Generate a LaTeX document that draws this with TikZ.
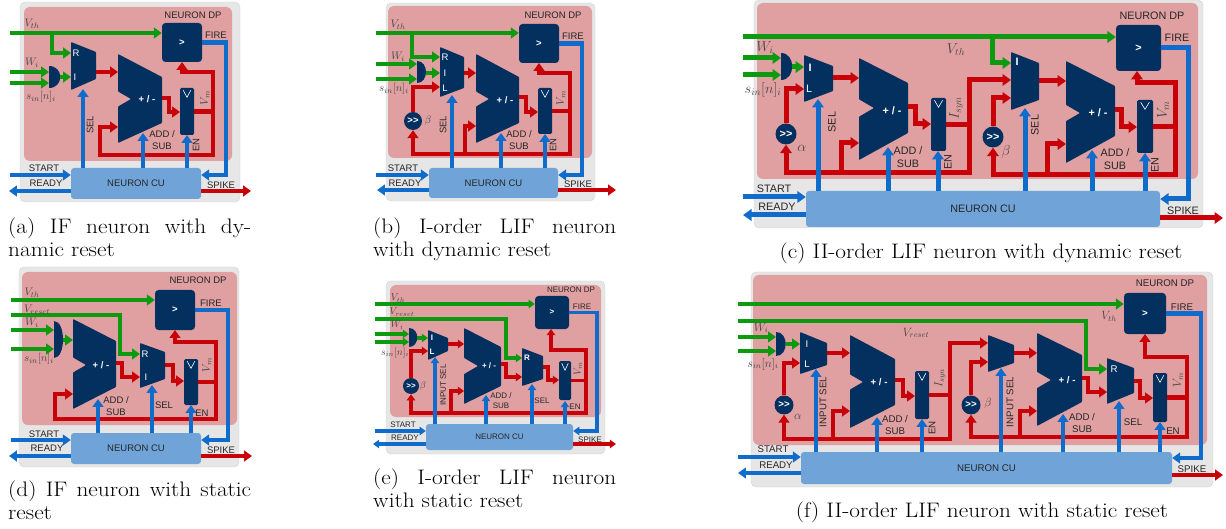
\documentclass[tikz,border=0pt]{standalone}
\usepackage{fontspec}
\setsansfont{Liberation Sans}
\usepackage{tikz}
\usetikzlibrary{arrows.meta}
\definecolor{outergray}{HTML}{E6E6E6}
\definecolor{outerline}{HTML}{D2D2D2}
\definecolor{dppink}{HTML}{E0A0A2}
\definecolor{blocknavy}{HTML}{03305F}
\definecolor{cublue}{HTML}{70A4D8}
\definecolor{wiregreen}{HTML}{0E9A0E}
\definecolor{wirered}{HTML}{C80008}
\definecolor{wireblue}{HTML}{0F6CCB}
\definecolor{labgray}{HTML}{262626}
\tikzset{
  lab/.style={inner sep=0pt,text=labgray},
  mlab/.style={inner sep=0pt,text=labgray!85},
  plab/.style={lab,text=white},
  panelfont/.style n args={3}{
    lab/.append style={font=\sffamily\fontsize{#1}{#2}\selectfont,align=center},
    mlab/.append style={font=\fontsize{#3}{#3}\selectfont}},
  wire/.style={line width=4pt,>={Triangle[length=0pt 1.7,width=0pt 2.3]}},
  wirewidth/.style={wire/.append style={line width=#1pt}},
  gwire/.style={wire,draw=wiregreen},
  rwire/.style={wire,draw=wirered},
  bwire/.style={wire,draw=wireblue},
  blockfill/.style={fill=blocknavy,rounded corners=0.7pt},
  cmpbox/.style={lab,text=white,fill=blocknavy,rounded corners=3.5pt},
  regbox/.style={lab,fill=blocknavy,rounded corners=1.5pt},
  cubox/.style={lab,fill=cublue,rounded corners=3pt},
  shiftnode/.style={lab,text=white,circle,fill=blocknavy},
  capt/.style={inner sep=0pt,text=black,xscale=1.108,font=\fontsize{21}{22.8}\selectfont},
  captj/.style={capt,anchor=north west,text width=219.3pt,align=justify},
}
% to place a box by its corners
\newcommand\blocknode[7]{\node[#1,minimum width={(#5-#3)*1pt},minimum height={(#6-#4)*1pt}] (#2) at ({(#3+#5)/2},{(#4+#6)/2}) {#7};}
% to draw a register with its clock mark
\newcommand\regnode[5]{\blocknode{regbox}{#1}{#2}{#3}{#4}{#5}{}
  \draw[white,line width=0.6pt] (#1.north) ++({-0.27*(#4-#2)},2.5) -- ++({0.27*(#4-#2)},7) -- ++({0.27*(#4-#2)},-7);}
% x1 x2 ytopleft ytopright ybotright ybotleft
\newcommand\muxshape[6]{\fill[blockfill] (#1,#3) -- (#2,#4) -- (#2,#5) -- (#1,#6) -- cycle;}
% x1 x2 ytl ytr ybr ybl xnotch ynotch
\newcommand\addershape[8]{\fill[blockfill] (#1,#3) -- (#2,#4) -- (#2,#5) -- (#1,#6) -- (#1,{#8+0.58*(#7-#1)}) -- (#7,#8) -- (#1,{#8-0.58*(#7-#1)}) -- cycle;}
% x1 x2 y1 y2
\newcommand\andshape[4]{\fill[fill=blocknavy] (#1,#3) .. controls ({#1+(#2-#1)/0.75},#3) and ({#1+(#2-#1)/0.75},#4) .. (#1,#4) -- cycle;}
% outer box, then data path box
\newcommand\panelbg[8]{\draw[fill=outergray,draw=outerline,rounded corners=5pt] (#1,#2) rectangle (#3,#4);
  \fill[dppink,rounded corners=6pt] (#5,#6) rectangle (#7,#8);}
\newcommand\shr{\textbf{>\kern0pt>}}
\begin{document}
\begin{tikzpicture}[x=1pt,y=-1pt]
\useasboundingbox (0,0) rectangle (1226,529);

%%% (a)
\begin{scope}[name prefix=a-,panelfont={9.5}{11.5}{11},wirewidth=4.6]
\panelbg{20}{2}{240}{202}{24}{7}{232}{161}
\node[lab] (dp) at (193,15) {NEURON DP};
% blocks
\blocknode{cmpbox}{cmp}{162}{23}{202}{62}{\textbf{>}}
\blocknode{cubox}{cu}{71}{168}{201}{199}{NEURON CU}
\regnode{reg}{180}{88}{194}{135}
\muxshape{71}{96}{42}{52}{79}{90}
\addershape{118}{162}{54}{77}{123}{143}{131}{99}
\andshape{49}{60}{66}{88}
% green wires
\coordinate (vth) at (10,33);
\coordinate (vthb) at (52,33);
\coordinate (muxr) at (71,53);
\coordinate (wa) at (10,72);
\coordinate (wb) at (10,83);
\coordinate (anda) at (49,72);
\coordinate (andb) at (49,83);
\coordinate (ando) at (60,77);
\coordinate (muxi) at (71,77);
\draw[gwire,->] (vth) -- (vth -| cmp.west);
\draw[gwire,->] (vthb) |- (muxr);
\draw[gwire,->] (wa) -- (anda);
\draw[gwire,->] (wb) -- (andb);
\draw[gwire,->] (ando) -- (muxi);
% red wires
\coordinate (muxo) at (96,72);
\coordinate (adda) at (118,72);
\coordinate (addo) at (162,98);
\coordinate (addk) at (169,112);
\coordinate (regd) at (180,112);
\coordinate (cmpi) at (182,62);
\coordinate (bust) at (213,72);
\coordinate (busr) at (213,155);
\coordinate (busl) at (100,127);
\coordinate (addb) at (118,127);
\draw[rwire,->] (muxo) -- (adda);
\draw[rwire,->] (addo) -| (addk) -- (regd);
\draw[rwire] (reg.east) -- (reg.east -| busr);
\draw[rwire,<->] (cmpi) |- (bust) -- (busr) -| (busl) -- (addb);
% blue wires
\coordinate (sel) at (83,89);
\coordinate (addsub) at (143,133);
\coordinate (en) at (187,135);
\coordinate (firex) at (226,175);
\coordinate (start) at (10,175);
\coordinate (ready) at (9,191);
\coordinate (spike) at (251,191);
\draw[bwire,->] (cu.north -| sel) -- (sel);
\draw[bwire,->] (cu.north -| addsub) -- (addsub);
\draw[bwire,->] (cu.north -| en) -- (en);
\draw[bwire,->] (cmp.east) -- (cmp.east -| firex) -- (firex) -- (firex -| cu.east);
\draw[bwire,->] (start) -- (start -| cu.west);
\draw[bwire,->] (ready -| cu.west) -- (ready);
\draw[rwire,->] (spike -| cu.east) -- (spike);
% to write labels
\node[mlab] (lvth) at (32,24) {$V_{th}$};
\node[mlab] (lw) at (32,63) {$W_i$};
\node[mlab] (ls) at (41,97) {$s_{in}[n]_i$};
\node[mlab,rotate=90] (lvm) at (205,98) {$V_m$};
\node[plab] (lr) at (76,53) {R};
\node[plab] (li) at (75,77) {I};
\node[plab] (lpm) at (147,99) {\textbf{+ / -}};
\node[lab,rotate=90] (lsel) at (90,125) {SEL};
\node[lab] (lad) at (162,140) {ADD /\\SUB};
\node[lab,rotate=90] (len) at (196,145) {EN};
\node[lab] (lfire) at (216,35) {FIRE};
\node[lab] (lstart) at (44,168) {START};
\node[lab] (lready) at (46,183) {READY};
\node[lab] (lspike) at (221,185) {SPIKE};
\node[captj] (capa) at (8,218) {(a) IF neuron with dy-\linebreak namic reset};
\end{scope}

%%% (b)
\begin{scope}[name prefix=b-,panelfont={9.5}{11.5}{11},wirewidth=4.6]
\panelbg{386}{3}{595}{201}{388}{6}{592}{158}
\node[lab] (dp) at (553,15) {NEURON DP};
% blocks
\blocknode{cmpbox}{cmp}{519}{24}{559}{63}{\textbf{>}}
\blocknode{cubox}{cu}{429}{168}{558}{198}{NEURON CU}
\regnode{reg}{538}{88}{552}{134}
\muxshape{440}{464}{47}{57}{88}{97}
\addershape{476}{519}{54}{77}{123}{143}{489}{99}
\andshape{417}{426}{61}{83}
\node[shiftnode,minimum size=18pt] (shift) at (413,121) {\shr};
% green wires
\coordinate (vth) at (376,33);
\coordinate (vthb) at (412,33);
\coordinate (muxr) at (440,57);
\coordinate (wa) at (376,64);
\coordinate (wb) at (376,79);
\coordinate (anda) at (417,64);
\coordinate (andb) at (417,79);
\coordinate (ando) at (426,73);
\coordinate (muxi) at (440,73);
\draw[gwire,->] (vth) -- (vth -| cmp.west);
\draw[gwire,->] (vthb) |- (muxr);
\draw[gwire,->] (wa) -- (anda);
\draw[gwire,->] (wb) -- (andb);
\draw[gwire,->] (ando) -- (muxi);
% red wires
\coordinate (muxl) at (440,87);
\coordinate (muxo) at (464,73);
\coordinate (adda) at (476,73);
\coordinate (addo) at (519,97);
\coordinate (addk) at (526,112);
\coordinate (regd) at (538,112);
\coordinate (cmpi) at (539,63);
\coordinate (bust) at (570,73);
\coordinate (busr) at (570,154);
\coordinate (busb) at (465,154);
\coordinate (addb) at (476,126);
\draw[rwire,->] (shift.north) |- (muxl);
\draw[rwire,->] (muxo) -- (adda);
\draw[rwire,->] (addo) -| (addk) -- (regd);
\draw[rwire] (reg.east) -- (reg.east -| busr);
\draw[rwire,<->] (cmpi) |- (bust) -- (busr) -- (busr -| shift.south) -- (shift.south);
\draw[rwire,->] (busb) |- (addb);
% blue wires
\coordinate (sel) at (452,95);
\coordinate (addsub) at (501,133);
\coordinate (en) at (545,134);
\coordinate (firex) at (582,175);
\coordinate (start) at (376,175);
\coordinate (ready) at (377,190);
\coordinate (spike) at (616,190);
\draw[bwire,->] (cu.north -| sel) -- (sel);
\draw[bwire,->] (cu.north -| addsub) -- (addsub);
\draw[bwire,->] (cu.north -| en) -- (en);
\draw[bwire,->] (cmp.east) -- (cmp.east -| firex) -- (firex) -- (firex -| cu.east);
\draw[bwire,->] (start) -- (start -| cu.west);
\draw[bwire,->] (ready -| cu.west) -- (ready);
\draw[rwire,->] (spike -| cu.east) -- (spike);
% to write labels
\node[mlab] (lvth) at (398,25) {$V_{th}$};
\node[mlab] (lw) at (398,57) {$W_i$};
\node[mlab] (ls) at (394,89) {$s_{in}[n]_i$};
\node[mlab,rotate=90] (lvm) at (561,98) {$V_m$};
\node[mlab] (lbeta) at (428,121) {$\beta$};
\node[plab] (lr) at (445,57) {R};
\node[plab] (li) at (445,73) {I};
\node[plab] (ll) at (445,88) {L};
\node[plab] (lpm) at (505,100) {\textbf{+ / -}};
\node[lab,rotate=90] (lsel) at (443,125) {SEL};
\node[lab] (lad) at (519,140) {ADD /\\SUB};
\node[lab,rotate=90] (len) at (553,145) {EN};
\node[lab] (lfire) at (573,36) {FIRE};
\node[lab] (lstart) at (403,168) {START};
\node[lab] (lready) at (405,183) {READY};
\node[lab] (lspike) at (578,184) {SPIKE};
\node[captj] (capb) at (373,218) {(b) I-order LIF neuron\linebreak with dynamic reset};
\end{scope}

%%% (c)
\begin{scope}[name prefix=c-,panelfont={10.8}{13}{14},wirewidth=5]
\panelbg{754}{0}{1203}{228}{757}{3}{1198}{179}
\node[lab] (dp) at (1152,16) {NEURON DP};
% blocks
\blocknode{cmpbox}{cmp}{1116}{25}{1161}{71}{\textbf{>}}
\blocknode{cubox}{cu}{806}{191}{1160}{227}{NEURON CU}
\regnode{rega}{931}{98}{946}{151}
\regnode{regb}{1137}{100}{1153}{153}
\muxshape{804}{833}{55}{66}{91}{102}
\muxshape{1011}{1039}{52}{63}{100}{110}
\addershape{859}{908}{58}{83}{133}{160}{874}{108}
\addershape{1066}{1115}{61}{86}{136}{163}{1080}{113}
\andshape{781}{792}{53}{80}
\node[shiftnode,minimum size=21pt] (shifta) at (786,134) {\shr};
\node[shiftnode,minimum size=21pt] (shiftb) at (993,137) {\shr};
% green wires
\coordinate (vth) at (743,37);
\coordinate (vthb) at (992,37);
\coordinate (muxr) at (1011,63);
\coordinate (wa) at (743,58);
\coordinate (wb) at (743,75);
\coordinate (anda) at (781,58);
\coordinate (andb) at (781,75);
\coordinate (ando) at (792,67);
\coordinate (muxi) at (804,67);
\draw[gwire,->] (vth) -- (vth -| cmp.west);
\draw[gwire,->] (vthb) |- (muxr);
\draw[gwire,->] (wa) -- (anda);
\draw[gwire,->] (wb) -- (andb);
\draw[gwire,->] (ando) -- (muxi);
% red wires, first stage
\coordinate (muxl) at (804,89);
\coordinate (muxo) at (833,78);
\coordinate (adda) at (859,78);
\coordinate (addo) at (908,107);
\coordinate (addk) at (915,124);
\coordinate (regd) at (931,124);
\coordinate (bust) at (969,80);
\coordinate (busr) at (969,173);
\coordinate (busb) at (841,173);
\coordinate (addb) at (859,143);
\coordinate (muxs) at (1011,80);
\draw[rwire,->] (shifta.north) |- (muxl);
\draw[rwire,->] (muxo) -- (adda);
\draw[rwire,->] (addo) -| (addk) -- (regd);
\draw[rwire] (rega.east) -- (rega.east -| busr);
\draw[rwire,<->] (muxs) -- (bust) -- (busr) -- (busr -| shifta.south) -- (shifta.south);
\draw[rwire,->] (busb) |- (addb);
% red wires, second stage
\coordinate (muxl2) at (1011,98);
\coordinate (muxo2) at (1039,81);
\coordinate (adda2) at (1066,81);
\coordinate (addo2) at (1115,110);
\coordinate (addk2) at (1121,127);
\coordinate (regd2) at (1137,127);
\coordinate (cmpi) at (1137,71);
\coordinate (bust2) at (1175,83);
\coordinate (busr2) at (1175,175);
\coordinate (busb2) at (1047,175);
\coordinate (addb2) at (1066,144);
\draw[rwire,->] (shiftb.north) |- (muxl2);
\draw[rwire,->] (muxo2) -- (adda2);
\draw[rwire,->] (addo2) -| (addk2) -- (regd2);
\draw[rwire] (regb.east) -- (regb.east -| busr2);
\draw[rwire,<->] (cmpi) |- (bust2) -- (busr2) -- (busr2 -| shiftb.south) -- (shiftb.south);
\draw[rwire,->] (busb2) |- (addb2);
% blue wires
\coordinate (sel) at (818,99);
\coordinate (addsub) at (888,147);
\coordinate (en) at (938,151);
\coordinate (sel2) at (1025,108);
\coordinate (addsub2) at (1092,150);
\coordinate (en2) at (1145,153);
\coordinate (firex) at (1188,199);
\coordinate (start) at (743,197);
\coordinate (ready) at (743,215);
\coordinate (spike) at (1223,218);
\draw[bwire,->] (cu.north -| sel) -- (sel);
\draw[bwire,->] (cu.north -| addsub) -- (addsub);
\draw[bwire,->] (cu.north -| en) -- (en);
\draw[bwire,->] (cu.north -| sel2) -- (sel2);
\draw[bwire,->] (cu.north -| addsub2) -- (addsub2);
\draw[bwire,->] (cu.north -| en2) -- (en2);
\draw[bwire,->] (cmp.east) -- (cmp.east -| firex) -- (firex) -- (firex -| cu.east);
\draw[bwire,->] (start) -- (start -| cu.west);
\draw[bwire,->] (ready -| cu.west) -- (ready);
\draw[rwire,->] (spike -| cu.east) -- (spike);
% to write labels
\node[mlab] (lvth) at (956,50) {$V_{th}$};
\node[mlab] (lw) at (765,48) {$W_i$};
\node[mlab] (ls) at (763,90) {$s_{in}[n]_i$};
\node[mlab,rotate=90] (lisyn) at (956,108) {$I_{syn}$};
\node[mlab,rotate=90] (lvm) at (1163,110) {$V_m$};
\node[mlab] (lalpha) at (802,148) {$\alpha$};
\node[mlab] (lbeta) at (1006,152) {$\beta$};
\node[plab] (li) at (810,68) {\textbf{I}};
\node[plab] (ll) at (809,89) {L};
\node[plab] (li2) at (1017,62) {\textbf{I}};
\node[plab] (lpm) at (892,111) {\textbf{+ / -}};
\node[plab] (lpm2) at (1098,113) {\textbf{+ / -}};
\node[lab,rotate=90] (lsel) at (832,122) {SEL};
\node[lab,rotate=90] (lsel2) at (1035,125) {SEL};
\node[lab] (lad) at (908,157) {ADD /\\SUB};
\node[lab] (lad2) at (1115,159) {ADD /\\SUB};
\node[lab,rotate=90] (len) at (948,162) {EN};
\node[lab,rotate=90] (len2) at (1155,165) {EN};
\node[lab] (lfire) at (1177,38) {FIRE};
\node[lab] (lstart) at (774,189) {START};
\node[lab] (lready) at (777,207) {READY};
\node[lab] (lspike) at (1183,211) {SPIKE};
\node[capt] (capc) at (981,253) {(c) II-order LIF neuron with dynamic reset};
\end{scope}

%%% (d)
\begin{scope}[name prefix=d-,panelfont={9.5}{11.5}{11},wirewidth=4.6]
\panelbg{19}{267}{239}{467}{22}{272}{237}{425}
\node[lab] (dp) at (198,280) {NEURON DP};
% blocks
\blocknode{cmpbox}{cmp}{155}{290}{195}{330}{\textbf{>}}
\blocknode{cubox}{cu}{71}{433}{201}{464}{NEURON CU}
\regnode{reg}{184}{359}{198}{405}
\muxshape{140}{165}{343}{352}{379}{388}
\addershape{73}{116}{319}{341}{387}{409}{86}{365}
\andshape{54}{63}{321}{358}
% green wires
\coordinate (vth) at (11,300);
\coordinate (vr) at (11,315);
\coordinate (vrb) at (120,354);
\coordinate (muxr) at (140,354);
\coordinate (wa) at (11,330);
\coordinate (wb) at (11,349);
\coordinate (anda) at (54,330);
\coordinate (andb) at (54,349);
\coordinate (ando) at (63,340);
\coordinate (addg) at (73,340);
\draw[gwire,->] (vth) -- (vth -| cmp.west);
\draw[gwire,->] (vr) -| (vrb) -- (muxr);
\draw[gwire,->] (wa) -- (anda);
\draw[gwire,->] (wb) -- (andb);
\draw[gwire,->] (ando) -- (addg);
% red wires
\coordinate (addo) at (116,363);
\coordinate (addk) at (122,377);
\coordinate (muxi) at (140,377);
\coordinate (muxo) at (165,365);
\coordinate (muxk) at (173,381);
\coordinate (regd) at (184,381);
\coordinate (cmpi) at (175,330);
\coordinate (bust) at (216,342);
\coordinate (busr) at (216,419);
\coordinate (busl) at (55,394);
\coordinate (addb) at (73,394);
\draw[rwire,->] (addo) -| (addk) -- (muxi);
\draw[rwire,->] (muxo) -| (muxk) -- (regd);
\draw[rwire] (reg.east) -- (reg.east -| busr);
\draw[rwire,<->] (cmpi) |- (bust) -- (busr) -| (busl) -- (addb);
% blue wires
\coordinate (addsub) at (98,399);
\coordinate (sel) at (152,385);
\coordinate (en) at (191,405);
\coordinate (firex) at (228,440);
\coordinate (start) at (11,440);
\coordinate (ready) at (9,456);
\coordinate (spike) at (252,456);
\draw[bwire,->] (cu.north -| addsub) -- (addsub);
\draw[bwire,->] (cu.north -| sel) -- (sel);
\draw[bwire,->] (cu.north -| en) -- (en);
\draw[bwire,->] (cmp.east) -- (cmp.east -| firex) -- (firex) -- (firex -| cu.east);
\draw[bwire,->] (start) -- (start -| cu.west);
\draw[bwire,->] (ready -| cu.west) -- (ready);
\draw[rwire,->] (spike -| cu.east) -- (spike);
% to write labels
\node[mlab] (lvth) at (32,293) {$V_{th}$};
\node[mlab] (lvr) at (37,310) {$V_{reset}$};
\node[mlab] (lw) at (32,323) {$W_i$};
\node[mlab] (ls) at (39,359) {$s_{in}[n]_i$};
\node[mlab,rotate=90] (lvm) at (207,365) {$V_m$};
\node[plab] (lr) at (145,354) {R};
\node[plab] (li) at (146,377) {I};
\node[plab] (lpm) at (101,365) {\textbf{+ / -}};
\node[lab] (lsel) at (164,405) {SEL};
\node[lab] (lad) at (116,406) {ADD /\\SUB};
\node[lab] (len) at (202,413) {EN};
\node[lab] (lfire) at (211,303) {FIRE};
\node[lab] (lstart) at (44,434) {START};
\node[lab] (lready) at (47,448) {READY};
\node[lab] (lspike) at (221,450) {SPIKE};
\node[captj] (capd) at (8,481) {(d) IF neuron with static\linebreak reset};
\end{scope}

%%% (e)
\begin{scope}[name prefix=e-,panelfont={8}{10}{10},wirewidth=3.6]
\panelbg{386}{281}{605}{454}{390}{285}{601}{417}
\node[lab] (dp) at (571,290) {NEURON DP};
% blocks
\blocknode{cmpbox}{cmp}{535}{296}{569}{329}{\textbf{>}}
\blocknode{cubox}{cu}{426}{424}{573}{450}{NEURON CU}
\regnode{reg}{559}{361}{571}{400}
\muxshape{428}{448}{330}{338}{351}{360}
\muxshape{522}{543}{348}{356}{379}{386}
\addershape{464}{501}{328}{347}{386}{404}{478}{366}
\andshape{409}{417}{328}{347}
\node[shiftnode,minimum size=16pt] (shift) at (411,386) {\shr};
% green wires
\coordinate (vth) at (375,304);
\coordinate (vr) at (375,319);
\coordinate (vrb) at (506,358);
\coordinate (muxr) at (522,358);
\coordinate (wa) at (375,334);
\coordinate (wb) at (375,342);
\coordinate (anda) at (409,334);
\coordinate (andb) at (409,342);
\coordinate (ando) at (417,338);
\coordinate (muxi) at (428,338);
\draw[gwire,->] (vth) -- (vth -| cmp.west);
\draw[gwire,->] (vr) -| (vrb) -- (muxr);
\draw[gwire,->] (wa) -- (anda);
\draw[gwire,->] (wb) -- (andb);
\draw[gwire,->] (ando) -- (muxi);
% red wires
\coordinate (muxl) at (428,351);
\coordinate (muxo) at (448,344);
\coordinate (adda) at (464,344);
\coordinate (addo) at (501,364);
\coordinate (addk) at (506,377);
\coordinate (muxd) at (522,377);
\coordinate (muxo2) at (543,367);
\coordinate (muxk) at (548,380);
\coordinate (regd) at (559,380);
\coordinate (cmpi) at (551,329);
\coordinate (bust) at (586,350);
\coordinate (busr) at (586,413);
\coordinate (busb) at (451,413);
\coordinate (addb) at (464,391);
\draw[rwire,->] (shift.north) |- (muxl);
\draw[rwire,->] (muxo) -- (adda);
\draw[rwire,->] (addo) -| (addk) -- (muxd);
\draw[rwire,->] (muxo2) -| (muxk) -- (regd);
\draw[rwire] (reg.east) -- (reg.east -| busr);
\draw[rwire,<->] (cmpi) |- (bust) -- (busr) -- (busr -| shift.south) -- (shift.south);
\draw[rwire,->] (busb) |- (addb);
% blue wires
\coordinate (sel) at (435,357);
\coordinate (addsub) at (486,395);
\coordinate (sel2) at (532,384);
\coordinate (en) at (565,401);
\coordinate (firex) at (597,431);
\coordinate (start) at (375,431);
\coordinate (ready) at (373,444);
\coordinate (spike) at (616,444);
\draw[bwire,->] (cu.north -| sel) -- (sel);
\draw[bwire,->] (cu.north -| addsub) -- (addsub);
\draw[bwire,->] (cu.north -| sel2) -- (sel2);
\draw[bwire,->] (cu.north -| en) -- (en);
\draw[bwire,->] (cmp.east) -- (cmp.east -| firex) -- (firex) -- (firex -| cu.east);
\draw[bwire,->] (start) -- (start -| cu.west);
\draw[bwire,->] (ready -| cu.west) -- (ready);
\draw[rwire,->] (spike -| cu.east) -- (spike);
% to write labels
\node[mlab] (lvth) at (398,298) {$V_{th}$};
\node[mlab] (lvr) at (402,312) {$V_{reset}$};
\node[mlab] (lw) at (397,325) {$W_i$};
\node[mlab] (ls) at (395,353) {$s_{in}[n]_i$};
\node[mlab,rotate=90] (lvm) at (578,369) {$V_m$};
\node[mlab] (lbeta) at (423,386) {$\beta$};
\node[plab] (li) at (432,338) {\textbf{I}};
\node[plab] (ll) at (432,352) {\textbf{L}};
\node[plab] (lr) at (527,358) {\textbf{R}};
\node[plab] (lpm) at (489,366) {\textbf{+ / -}};
\node[lab,rotate=90] (lsel) at (443,385) {INPUT SEL};
\node[lab] (lsel2) at (542,401) {SEL};
\node[lab] (lad) at (501,401) {ADD /\\SUB};
\node[lab] (len) at (575,407) {EN};
\node[lab] (lfire) at (582,307) {FIRE};
\node[lab] (lstart) at (403,425) {START};
\node[lab] (lready) at (405,438) {READY};
\node[lab] (lspike) at (590,440) {SPIKE};
\node[captj] (cape) at (373,469) {(e) I-order LIF neuron\linebreak with static reset};
\end{scope}

%%% (f)
\begin{scope}[name prefix=f-,panelfont={9.7}{11.5}{12},wirewidth=4.6]
\panelbg{751}{272}{1213}{487}{753}{275}{1207}{445}
\node[lab] (dp) at (1165,283) {NEURON DP};
% blocks
\blocknode{cmpbox}{cmp}{1124}{293}{1166}{334}{\textbf{>}}
\blocknode{cubox}{cu}{801}{452}{1172}{484}{NEURON CU}
\regnode{rega}{915}{371}{929}{419}
\regnode{regb}{1153}{373}{1167}{422}
\muxshape{800}{827}{332}{343}{365}{374}
\muxshape{988}{1014}{335}{345}{363}{372}
\muxshape{1107}{1134}{358}{368}{393}{404}
\addershape{850}{895}{335}{359}{405}{428}{863}{382}
\addershape{1037}{1082}{333}{355}{402}{426}{1051}{380}
\andshape{776}{786}{332}{356}
\node[shiftnode,minimum size=19pt] (shifta) at (784,405) {\shr};
\node[shiftnode,minimum size=19pt] (shiftb) at (971,405) {\shr};
% green wires
\coordinate (vth) at (738,304);
\coordinate (vr) at (738,321);
\coordinate (vrb) at (1086,369);
\coordinate (muxr) at (1107,369);
\coordinate (wa) at (738,337);
\coordinate (wb) at (738,351);
\coordinate (anda) at (776,337);
\coordinate (andb) at (776,351);
\coordinate (ando) at (786,344);
\coordinate (muxi) at (800,344);
\draw[gwire,->] (vth) -- (vth -| cmp.west);
\draw[gwire,->] (vr) -| (vrb) -- (muxr);
\draw[gwire,->] (wa) -- (anda);
\draw[gwire,->] (wb) -- (andb);
\draw[gwire,->] (ando) -- (muxi);
% red wires, first stage
\coordinate (muxl) at (800,363);
\coordinate (muxo) at (827,353);
\coordinate (adda) at (850,353);
\coordinate (addo) at (895,380);
\coordinate (addk) at (903,396);
\coordinate (regd) at (915,396);
\coordinate (bust) at (950,343);
\coordinate (busr) at (950,439);
\coordinate (busb) at (833,439);
\coordinate (addb) at (850,411);
\coordinate (muxs) at (988,343);
\draw[rwire,->] (shifta.north) |- (muxl);
\draw[rwire,->] (muxo) -- (adda);
\draw[rwire,->] (addo) -| (addk) -- (regd);
\draw[rwire] (rega.east) -- (rega.east -| busr);
\draw[rwire,<->] (muxs) -- (bust) -- (busr) -- (busr -| shifta.south) -- (shifta.south);
\draw[rwire,->] (busb) |- (addb);
% red wires, second stage
\coordinate (muxl2) at (988,362);
\coordinate (muxo2) at (1014,353);
\coordinate (adda2) at (1037,353);
\coordinate (addo2) at (1082,378);
\coordinate (addk2) at (1088,392);
\coordinate (muxd) at (1107,392);
\coordinate (muxo3) at (1134,381);
\coordinate (muxk) at (1140,398);
\coordinate (regd2) at (1153,398);
\coordinate (cmpi) at (1145,334);
\coordinate (bust2) at (1187,357);
\coordinate (busr2) at (1187,437);
\coordinate (busb2) at (1020,437);
\coordinate (addb2) at (1037,411);
\draw[rwire,->] (shiftb.north) |- (muxl2);
\draw[rwire,->] (muxo2) -- (adda2);
\draw[rwire,->] (addo2) -| (addk2) -- (muxd);
\draw[rwire,->] (muxo3) -| (muxk) -- (regd2);
\draw[rwire] (regb.east) -- (regb.east -| busr2);
\draw[rwire,<->] (cmpi) |- (bust2) -- (busr2) -- (busr2 -| shiftb.south) -- (shiftb.south);
\draw[rwire,->] (busb2) |- (addb2);
% blue wires
\coordinate (sel) at (816,369);
\coordinate (addsub) at (877,417);
\coordinate (en) at (922,419);
\coordinate (sel2) at (1001,368);
\coordinate (addsub2) at (1063,414);
\coordinate (sel3) at (1119,401);
\coordinate (en2) at (1160,422);
\coordinate (firex) at (1201,458);
\coordinate (start) at (738,457);
\coordinate (ready) at (738,473);
\coordinate (spike) at (1223,475);
\draw[bwire,->] (cu.north -| sel) -- (sel);
\draw[bwire,->] (cu.north -| addsub) -- (addsub);
\draw[bwire,->] (cu.north -| en) -- (en);
\draw[bwire,->] (cu.north -| sel2) -- (sel2);
\draw[bwire,->] (cu.north -| addsub2) -- (addsub2);
\draw[bwire,->] (cu.north -| sel3) -- (sel3);
\draw[bwire,->] (cu.north -| en2) -- (en2);
\draw[bwire,->] (cmp.east) -- (cmp.east -| firex) -- (firex) -- (firex -| cu.east);
\draw[bwire,->] (start) -- (start -| cu.west);
\draw[bwire,->] (ready -| cu.west) -- (ready);
\draw[rwire,->] (spike -| cu.east) -- (spike);
% to write labels
\node[mlab] (lvth) at (1109,316) {$V_{th}$};
\node[mlab] (lvr) at (916,333) {$V_{reset}$};
\node[mlab] (lw) at (761,328) {$W_i$};
\node[mlab] (ls) at (763,364) {$s_{in}[n]_i$};
\node[mlab,rotate=90] (lisyn) at (940,378) {$I_{syn}$};
\node[mlab,rotate=90] (lvm) at (1178,380) {$V_m$};
\node[mlab] (lalpha) at (798,417) {$\alpha$};
\node[mlab] (lbeta) at (988,403) {$\beta$};
\node[plab] (li) at (807,344) {I};
\node[plab] (ll) at (807,364) {L};
\node[plab] (lr) at (1114,369) {R};
\node[plab] (lpm) at (879,382) {\textbf{+ / -}};
\node[plab] (lpm2) at (1067,380) {\textbf{+ / -}};
\node[lab,rotate=90] (lsel) at (823,402) {INPUT SEL};
\node[lab,rotate=90] (lsel2) at (1010,402) {INPUT SEL};
\node[lab] (lsel3) at (1133,422) {SEL};
\node[lab] (lad) at (895,425) {ADD /\\SUB};
\node[lab] (lad2) at (1082,423) {ADD /\\SUB};
\node[lab,rotate=90] (len) at (932,428) {EN};
\node[lab] (len2) at (1173,431) {EN};
\node[lab] (lfire) at (1182,307) {FIRE};
\node[lab] (lstart) at (773,449) {START};
\node[lab] (lready) at (776,465) {READY};
\node[lab] (lspike) at (1192,469) {SPIKE};
\node[capt] (capf) at (982,512) {(f) II-order LIF neuron with static reset};
\end{scope}
\end{tikzpicture}
\end{document}
